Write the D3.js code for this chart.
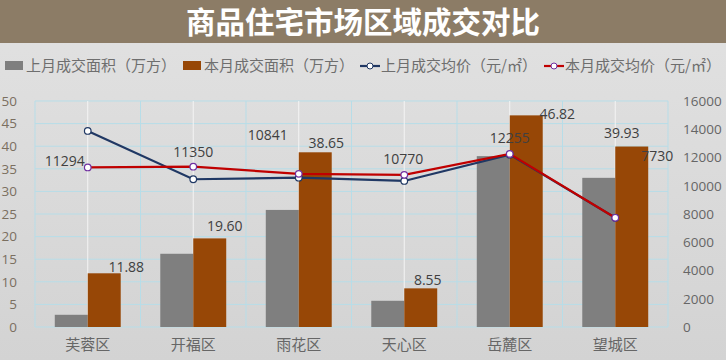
<!DOCTYPE html>
<html><head><meta charset="utf-8">
<script src="https://cdn.jsdelivr.net/npm/d3@7"></script>
<style>html,body{margin:0;padding:0;background:#fff;}svg{display:block;}</style>
</head><body><svg id="c" width="726" height="360"></svg>
<script>
const categories = ["芙蓉区","开福区","雨花区","天心区","岳麓区","望城区"];
const lastArea = [2.7, 16.2, 25.9, 5.8, 37.8, 33.0];
const thisArea = [11.88, 19.60, 38.65, 8.55, 46.82, 39.93];
const lastPrice = [13880, 10460, 10570, 10340, 12200, 7730];
const thisPrice = [11294, 11350, 10841, 10770, 12255, 7730];
const leftTicks = [0,5,10,15,20,25,30,35,40,45,50];
const rightTicks = [0,2000,4000,6000,8000,10000,12000,14000,16000];
const legendNames = ["上月成交面积（万方）","本月成交面积（万方）","上月成交均价（元/㎡）","本月成交均价（元/㎡）"];
const title = "商品住宅市场区域成交对比";

// label offsets (styling)
const priceLabelOff = [[-23,-6],[0,-15],[-31,-39],[-1,-16],[0,-16],[42,-62]];
const areaLabelOff = [[22,-6],[15,-12],[11,-9],[7,-8],[31,-1],[-10,-13]];

const svg = d3.select("#c");
const W=726,H=360;
const defs = svg.append("defs");
const g1 = defs.append("linearGradient").attr("id","bg").attr("x1",0).attr("y1",0).attr("x2",0).attr("y2",1);
g1.append("stop").attr("offset","0%").attr("stop-color","#e2e2e2");
g1.append("stop").attr("offset","100%").attr("stop-color","#d3d3d3");
svg.append("rect").attr("width",W).attr("height",H).attr("fill","url(#bg)");
svg.append("rect").attr("width",W).attr("height",43).attr("fill","#8c7c66");
svg.append("text").attr("x",363).attr("y",33).attr("text-anchor","middle")
  .attr("font-family","'Noto Sans CJK SC'").attr("font-weight","bold").attr("font-size",29.5)
  .attr("fill","#fff").text(title);

const L=35,R=668,T=101,B=327;
const x = d3.scaleBand().domain(categories).range([L,R]).padding(0);
const yL = d3.scaleLinear().domain([0,50]).range([B,T]);
const yR = d3.scaleLinear().domain([0,16000]).range([B,T]);
const bw = x.bandwidth()*0.3125;

// gridlines
svg.append("g").selectAll("line").data(leftTicks).join("line")
  .attr("x1",L).attr("x2",R).attr("y1",d=>yL(d)).attr("y2",d=>yL(d))
  .attr("stroke","#b7dde8").attr("stroke-width",1);
const bounds = categories.map(c=>x(c)).concat([R]);
svg.append("g").selectAll("line").data(bounds).join("line")
  .attr("x1",d=>d).attr("x2",d=>d).attr("y1",T).attr("y2",B)
  .attr("stroke","#b7dde8").attr("stroke-width",1);
svg.append("g").selectAll("line").data(categories).join("line")
  .attr("x1",d=>x(d)+x.bandwidth()/2).attr("x2",d=>x(d)+x.bandwidth()/2).attr("y1",T).attr("y2",B)
  .attr("stroke","#f4f4f4").attr("stroke-width",1);

const cx = c=>x(c)+x.bandwidth()/2;
// bars
svg.append("g").selectAll("rect").data(categories).join("rect")
  .attr("x",c=>cx(c)-bw).attr("width",bw)
  .attr("y",(c,i)=>yL(lastArea[i])).attr("height",(c,i)=>B-yL(lastArea[i]))
  .attr("fill","#7f7f7f");
svg.append("g").selectAll("rect").data(categories).join("rect")
  .attr("x",c=>cx(c)).attr("width",bw)
  .attr("y",(c,i)=>yL(thisArea[i])).attr("height",(c,i)=>B-yL(thisArea[i]))
  .attr("fill","#974706");

// lines
const line = (arr)=>d3.line().x((d,i)=>cx(categories[i])).y(d=>yR(d))(arr);
svg.append("path").attr("d",line(lastPrice)).attr("fill","none").attr("stroke","#203864").attr("stroke-width",2.2);
svg.append("g").selectAll("circle").data(lastPrice).join("circle")
  .attr("cx",(d,i)=>cx(categories[i])).attr("cy",d=>yR(d)).attr("r",3.3)
  .attr("fill","#fff").attr("stroke","#203864").attr("stroke-width",1.2);
svg.append("path").attr("d",line(thisPrice)).attr("fill","none").attr("stroke","#c00000").attr("stroke-width",2.2);
svg.append("g").selectAll("circle").data(thisPrice).join("circle")
  .attr("cx",(d,i)=>cx(categories[i])).attr("cy",d=>yR(d)).attr("r",3.3)
  .attr("fill","#fff").attr("stroke","#7030a0").attr("stroke-width",1.2);

// data labels
const lf = "'Open Sans','Noto Sans',sans-serif";
svg.append("g").selectAll("text").data(thisArea).join("text")
  .attr("x",(d,i)=>cx(categories[i])+bw/2+areaLabelOff[i][0])
  .attr("y",(d,i)=>yL(d)+areaLabelOff[i][1]).attr("dy","0.35em")
  .attr("text-anchor","middle").attr("font-family",lf).attr("font-size",14).attr("fill","#404040")
  .text(d=>d.toFixed(2));
svg.append("g").selectAll("text").data(thisPrice).join("text")
  .attr("x",(d,i)=>cx(categories[i])+priceLabelOff[i][0])
  .attr("y",(d,i)=>yR(d)+priceLabelOff[i][1]).attr("dy","0.35em")
  .attr("text-anchor","middle").attr("font-family",lf).attr("font-size",14).attr("fill","#404040")
  .text(d=>d);

// axes
const axL = svg.append("g").attr("transform",`translate(${L},0)`)
  .call(d3.axisLeft(yL).tickValues(leftTicks).tickSize(0).tickPadding(18));
const axR = svg.append("g").attr("transform",`translate(${R},0)`)
  .call(d3.axisRight(yR).tickValues(rightTicks).tickFormat(d3.format("d")).tickSize(0).tickPadding(15));
const axB = svg.append("g").attr("transform",`translate(0,${B})`)
  .call(d3.axisBottom(x).tickSize(0).tickPadding(12));
[axL,axR,axB].forEach(a=>{a.select(".domain").remove();});
axL.selectAll("text").attr("font-family",lf).attr("font-size",13.5).attr("fill","#7b6f60");
axR.selectAll("text").attr("font-family",lf).attr("font-size",13.5).attr("fill","#666");
axB.selectAll("text").attr("font-family","'Noto Sans CJK SC'").attr("font-size",15).attr("fill","#666");

// legend
const lg = svg.append("g").attr("font-family","'Noto Sans CJK SC'").attr("font-size",15).attr("fill","#6e6e6e");
const lx = [5,183,360,544];
lg.append("rect").attr("x",lx[0]).attr("y",61).attr("width",18).attr("height",9).attr("fill","#7f7f7f");
lg.append("rect").attr("x",lx[1]).attr("y",61).attr("width",18).attr("height",9).attr("fill","#974706");
lg.append("line").attr("x1",lx[2]).attr("x2",lx[2]+20).attr("y1",66).attr("y2",66).attr("stroke","#203864").attr("stroke-width",2.2);
lg.append("circle").attr("cx",lx[2]+10).attr("cy",66).attr("r",3).attr("fill","#fff").attr("stroke","#203864");
lg.append("line").attr("x1",lx[3]).attr("x2",lx[3]+20).attr("y1",66).attr("y2",66).attr("stroke","#c00000").attr("stroke-width",2.2);
lg.append("circle").attr("cx",lx[3]+10).attr("cy",66).attr("r",3).attr("fill","#fff").attr("stroke","#7030a0");
lg.selectAll("text.l").data(legendNames).join("text").attr("class","l")
  .attr("x",(d,i)=>lx[i]+21).attr("y",66).attr("dy","0.35em").text(d=>d);
</script></body></html>
